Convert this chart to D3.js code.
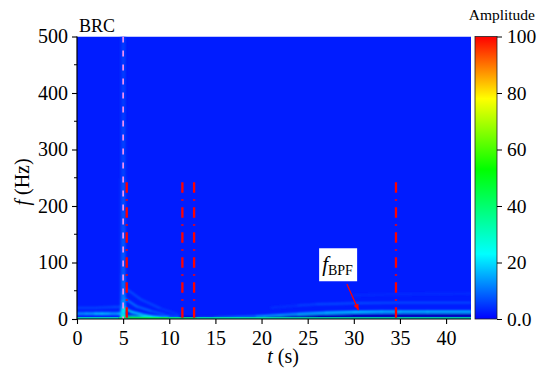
<!DOCTYPE html>
<html>
<head>
<meta charset="utf-8">
<script src="https://cdn.jsdelivr.net/npm/d3@7"></script>
<style>
@font-face { font-family: 'ChartSerif'; src: local('Liberation Serif'), local('LiberationSerif'), local('Times New Roman'); font-style: normal; }
@font-face { font-family: 'ChartSerif'; src: local('Liberation Serif Italic'), local('LiberationSerif-Italic'); font-style: italic; }
</style>
</head>
<body style="margin:0;background:#fff">
<script>
// axis domains and ticks
var tMax = 42.7;
var fMax = 500;
var xTicks = [0, 5, 10, 15, 20, 25, 30, 35, 40];
var yTicks = [0, 100, 200, 300, 400, 500];
var yMinor = [50, 150, 250, 350, 450];
var cbTicks = [0, 20, 40, 60, 80, 100];
var cbLabels = ["0.0", "20", "40", "60", "80", "100"];

// colour map (amplitude -> colour)
var ampStops = [-10, 0, 23, 53, 78, 100];
var ampColors = ["#00007a", "#0000ff", "#00ffff", "#00ff00", "#ffff00", "#ff0000"];

// background amplitude of the spectrogram
var background = 2.5;

// broadband streak at the BRC instant (t = 5 s): amplitude vs frequency
var streakFreq = [0, 8, 16, 25, 35, 50, 80, 150, 250, 350, 500];
var streakAmp  = [36, 30, 22, 16, 13, 11, 9, 8, 7, 6, 6];

// ridges: time (s), frequency (Hz), amplitude
var pre10T = [0, 1, 2, 2.7, 3.5, 4.5, 5];
var pre10F = [9.5, 9.5, 9.5, 9.5, 9.5, 9.5, 10];
var pre10A = [14, 15, 17, 22, 17, 15, 20];

var pre20T = [0, 2, 4, 5];
var pre20F = [20, 20, 21, 22];
var pre20A = [7, 8, 7, 9];

var decayAT = [5, 6, 7, 8, 9, 10, 11];
var decayAF = [20, 12, 8, 5, 3.5, 2.5, 2];
var decayAA = [30, 24, 20, 17, 14, 9, 4];

var decayBT = [5.2, 6.5, 8, 9.5, 11];
var decayBF = [36, 22, 14, 8, 4];
var decayBA = [14, 12, 10, 8, 4];

var decayCT = [5.2, 7, 9, 11];
var decayCF = [55, 34, 19, 8];
var decayCA = [9, 8, 7, 4];

var lowT = [5, 6, 7, 8, 9, 10, 11];
var lowF = [4, 4, 3.5, 3, 2.5, 2, 2];
var lowA = [42, 36, 32, 28, 22, 13, 6];

var darkT = [10, 15, 25, 30, 42.7];
var darkF = [2, 2, 4, 5.5, 6];
var darkA = [-3, -4, -6, -6, -6];

var bpfT = [13, 15, 19.5, 24, 27, 30, 33, 35, 38, 42.7];
var bpfF = [2, 2.5, 4.5, 9, 11, 12.5, 13, 13, 13, 13];
var bpfA = [6, 9, 14, 18, 20, 22, 23, 24, 24, 24];

var bpf2T = [21, 24, 26, 30, 35, 42.7];
var bpf2F = [20, 24, 26, 28, 29, 29];
var bpf2A = [4, 6, 8, 9, 9, 9];

var bpf3T = [30, 35, 42.7];
var bpf3F = [42, 44, 45];
var bpf3A = [4, 5, 5];

var zeroT = [0, 4.5, 5.5, 10, 13, 42.7];
var zeroA = [30, 35, 48, 45, 35, 35];

// event markers
var brcTime = 5;
var eventTimes = [5.39, 11.42, 12.69, 34.57];
var eventTop = 242;

// f_BPF annotation (data units)
var labelT = 28.3, labelF = 96;
var arrowFrom = [29.25, 62];
var arrowTo = [30.5, 16];

var SERIF = "'Liberation Serif', 'ChartSerif', 'Times New Roman', Tinos";

var W = 540, H = 372;
var x = d3.scaleLinear().domain([0, tMax]).range([77, 471]);
var y = d3.scaleLinear().domain([0, fMax]).range([319, 36.5]);
var color = d3.scaleLinear().domain(ampStops).range(ampColors).clamp(true);

var svg = d3.select("body").append("svg")
    .attr("width", W).attr("height", H)
    .style("display", "block")
    .style("font-family", SERIF);

var defs = svg.append("defs");
defs.append("clipPath").attr("id", "plotclip")
    .append("rect")
    .attr("x", x(0)).attr("y", y(fMax))
    .attr("width", x(tMax) - x(0)).attr("height", y(0) - y(fMax));
defs.append("filter").attr("id", "soft")
    .attr("x", "-10%").attr("y", "-10%").attr("width", "120%").attr("height", "120%")
    .append("feGaussianBlur").attr("stdDeviation", 0.8);

var heat = svg.append("g").attr("clip-path", "url(#plotclip)");
heat.append("rect")
    .attr("x", x(0)).attr("y", y(fMax))
    .attr("width", x(tMax) - x(0)).attr("height", y(0) - y(fMax))
    .attr("fill", color(background));

var soft = heat.append("g").attr("filter", "url(#soft)");

// broadband streak
for (var i = 0; i < streakFreq.length - 1; i++) {
    soft.append("rect")
        .attr("x", x(brcTime - 0.3)).attr("width", x(brcTime + 0.3) - x(brcTime - 0.3))
        .attr("y", y(streakFreq[i + 1])).attr("height", y(streakFreq[i]) - y(streakFreq[i + 1]))
        .attr("fill", color((streakAmp[i] + streakAmp[i + 1]) / 2 * 0.7));
    soft.append("rect")
        .attr("x", x(brcTime - 0.1)).attr("width", x(brcTime + 0.15) - x(brcTime - 0.1))
        .attr("y", y(streakFreq[i + 1])).attr("height", y(streakFreq[i]) - y(streakFreq[i + 1]))
        .attr("fill", color((streakAmp[i] + streakAmp[i + 1]) / 2));
}

function ridge(ts, fs, as, w) {
    for (var i = 0; i < ts.length - 1; i++) {
        soft.append("line")
            .attr("x1", x(ts[i])).attr("y1", y(fs[i]))
            .attr("x2", x(ts[i + 1])).attr("y2", y(fs[i + 1]))
            .attr("stroke", color((as[i] + as[i + 1]) / 2))
            .attr("stroke-width", w)
            .attr("stroke-linecap", "round");
    }
}

ridge(darkT, darkF, darkA, 3);
ridge(pre20T, pre20F, pre20A, 1.6);
ridge(pre10T, pre10F, pre10A, 2.2);
ridge(decayCT, decayCF, decayCA, 1.5);
ridge(decayBT, decayBF, decayBA, 1.6);
ridge(decayAT, decayAF, decayAA, 1.8);
ridge(lowT, lowF, lowA, 2.2);
ridge(bpf3T, bpf3F, bpf3A, 1.3);
ridge(bpf2T, bpf2F, bpf2A, 1.4);
ridge(bpfT, bpfF, bpfA, 1.9);

// 0 Hz row
for (var j = 0; j < zeroT.length - 1; j++) {
    heat.append("line")
        .attr("x1", x(zeroT[j])).attr("x2", x(zeroT[j + 1]))
        .attr("y1", y(0) - 1).attr("y2", y(0) - 1)
        .attr("stroke", color((zeroA[j] + zeroA[j + 1]) / 2))
        .attr("stroke-width", 1.6);
}

// BRC marker
heat.append("line")
    .attr("x1", x(brcTime)).attr("x2", x(brcTime))
    .attr("y1", y(fMax)).attr("y2", y(0))
    .attr("stroke", "#f08cf0").attr("stroke-width", 1.7)
    .attr("stroke-dasharray", "6,8");

// event lines
svg.selectAll(".event")
    .data(eventTimes)
    .enter()
    .append("line")
    .attr("class", "event")
    .attr("x1", function(d) { return x(d); })
    .attr("x2", function(d) { return x(d); })
    .attr("y1", y(eventTop)).attr("y2", y(0))
    .attr("stroke", "#ff0000").attr("stroke-width", 2.3)
    .attr("stroke-dasharray", "10.5,6.5,1.5,6.5");

// axes
var xAxis = d3.axisBottom(x).tickValues(xTicks).tickSize(5).tickPadding(7)
    .tickFormat(d3.format("d"));
var yAxis = d3.axisLeft(y).tickValues(yTicks).tickSize(5).tickPadding(4)
    .tickFormat(d3.format("d"));

var gx = svg.append("g").attr("transform", "translate(0," + y(0) + ")").call(xAxis);
var gy = svg.append("g").attr("transform", "translate(" + x(0) + ",0)").call(yAxis);
gy.selectAll(".minor").data(yMinor).enter().append("line")
    .attr("class", "minor")
    .attr("x1", -3).attr("x2", 0)
    .attr("y1", function(d) { return y(d); }).attr("y2", function(d) { return y(d); })
    .attr("stroke", "#000");
[gx, gy].forEach(function(g) {
    g.attr("font-family", null).attr("font-size", null);
    g.select(".domain").attr("stroke", "#000").attr("stroke-width", 1.2);
    g.selectAll(".tick line").attr("stroke", "#000").attr("stroke-width", 1.1);
    g.selectAll("text").style("font-size", "20px").style("font-family", SERIF);
});
gx.select(".domain").attr("d", "M" + x(0) + ",0H" + x(tMax));
gy.select(".domain").attr("d", "M0," + y(0) + "V" + y(fMax));

// axis titles
var xt = svg.append("text").attr("x", 283).attr("y", 363)
    .attr("text-anchor", "middle").style("font-size", "20px").style("font-family", SERIF);
xt.append("tspan").style("font-style", "italic").text("t");
xt.append("tspan").text(" (s)");

var yt = svg.append("text")
    .attr("transform", "translate(29,182) rotate(-90)")
    .attr("text-anchor", "middle").style("font-size", "20px").style("font-family", SERIF);
yt.append("tspan").style("font-style", "italic").text("f");
yt.append("tspan").text(" (Hz)");

svg.append("text").attr("x", 79).attr("y", 32)
    .style("font-size", "18px").style("font-family", SERIF).text("BRC");

// f_BPF label and arrow
var lx = x(labelT), ly = y(labelF);
svg.append("rect").attr("x", lx - 19).attr("y", ly - 16.5)
    .attr("width", 38).attr("height", 33).attr("fill", "#fff");
var lt = svg.append("text").attr("x", lx - 16).attr("y", ly + 6).style("font-family", SERIF);
lt.append("tspan").style("font-style", "italic").style("font-size", "21px").text("f");
lt.append("tspan").style("font-size", "14px").attr("dy", 4).text("BPF");

defs.append("marker").attr("id", "arrowhead")
    .attr("viewBox", "0 0 10 10").attr("refX", 9).attr("refY", 5)
    .attr("markerWidth", 5).attr("markerHeight", 5)
    .attr("orient", "auto")
    .append("path").attr("d", "M0,1L10,5L0,9Z").attr("fill", "#ff0000");
svg.append("line")
    .attr("x1", x(arrowFrom[0])).attr("y1", y(arrowFrom[1]))
    .attr("x2", x(arrowTo[0])).attr("y2", y(arrowTo[1]))
    .attr("stroke", "#ff0000").attr("stroke-width", 1.3)
    .attr("marker-end", "url(#arrowhead)");

// colour bar
var cbX = 475, cbW = 22;
var cbY = d3.scaleLinear().domain([0, 100]).range([319, 36.5]);
var grad = defs.append("linearGradient").attr("id", "cbgrad")
    .attr("x1", 0).attr("y1", 1).attr("x2", 0).attr("y2", 0);
grad.selectAll("stop")
    .data(ampStops.filter(function(d) { return d >= 0; }))
    .enter().append("stop")
    .attr("offset", function(d) { return d / 100; })
    .attr("stop-color", function(d) { return color(d); });
svg.append("rect").attr("x", cbX).attr("y", cbY(100))
    .attr("width", cbW).attr("height", cbY(0) - cbY(100))
    .attr("fill", "url(#cbgrad)").attr("stroke", "#222").attr("stroke-width", 0.8);
var cbAxis = d3.axisRight(cbY).tickValues(cbTicks).tickSize(5).tickPadding(5)
    .tickFormat(function(d, i) { return cbLabels[i]; });
var gc = svg.append("g").attr("transform", "translate(" + (cbX + cbW) + ",0)").call(cbAxis);
gc.attr("font-family", null).attr("font-size", null);
gc.select(".domain").remove();
gc.selectAll(".tick line").attr("stroke", "#000");
gc.selectAll("text").style("font-size", "19.5px").style("font-family", SERIF);

svg.append("text").attr("x", 535).attr("y", 20)
    .attr("text-anchor", "end").style("font-size", "15.5px").style("font-family", SERIF)
    .text("Amplitude");
</script>
</body>
</html>
